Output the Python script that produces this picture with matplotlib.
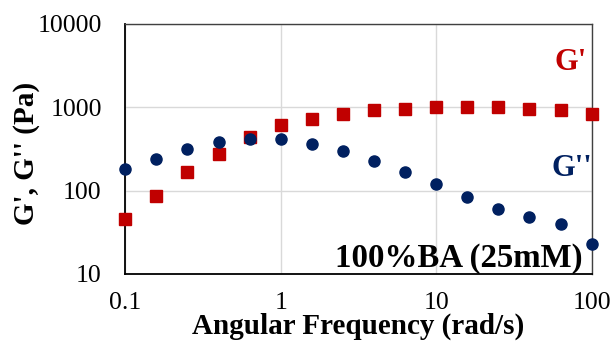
import matplotlib
matplotlib.use("Agg")
import matplotlib.pyplot as plt
from matplotlib.ticker import FixedLocator, NullLocator

freq = [0.1, 0.158, 0.251, 0.398, 0.631, 1.0, 1.58, 2.51, 3.98, 6.31,
        10.0, 15.8, 25.1, 39.8, 63.1, 100.0]
g_storage = [46, 87, 168, 278, 444, 608, 728, 832, 921, 955,
             1000, 1000, 1000, 955, 921, 832]
g_loss = [182, 242, 319, 380, 417, 417, 363, 302, 229, 168,
          121, 84, 61, 48, 40, 23]
x_ticks = [0.1, 1, 10, 100]
x_tick_labels = ["0.1", "1", "10", "100"]
y_ticks = [10, 100, 1000, 10000]
y_tick_labels = ["10", "100", "1000", "10000"]

red = "#C00000"
navy = "#002060"
serif = ["Liberation Serif", "DejaVu Serif"]

fig = plt.figure(figsize=(6.13, 3.42), dpi=100)
ax = fig.add_axes([125.3 / 613, 1 - 274 / 342, 466.4 / 613, 250 / 342])
ax.set_xscale("log")
ax.set_yscale("log")
ax.set_xlim(0.1, 100)
ax.set_ylim(10, 10000)

ax.plot(freq, g_storage, linestyle="none", marker="s", markersize=8,
        color=red, clip_on=False, zorder=3)
ax.plot(freq, g_loss, linestyle="none", marker="o", markersize=8,
        color=navy, clip_on=False, zorder=4)

ax.xaxis.set_major_locator(FixedLocator(x_ticks))
ax.yaxis.set_major_locator(FixedLocator(y_ticks))
ax.xaxis.set_minor_locator(NullLocator())
ax.yaxis.set_minor_locator(NullLocator())
ax.set_xticklabels(x_tick_labels)
ax.set_yticklabels(y_tick_labels)
ax.tick_params(axis="both", length=0, labelsize=18.5)
ax.tick_params(axis="x", pad=13)
ax.tick_params(axis="y", pad=17)
for lbl in ax.get_xticklabels() + ax.get_yticklabels():
    lbl.set_fontfamily(serif)

ax.grid(True, which="major", color="#D9D9D9", linewidth=1.0)
ax.set_axisbelow(True)
for side in ["left", "bottom"]:
    ax.spines[side].set_color("black")
    ax.spines[side].set_linewidth(1.3)
for side in ["top", "right"]:
    ax.spines[side].set_color("#404040")
    ax.spines[side].set_linewidth(1.0)

fig.text(27 / 613, 1 - 153 / 342, "G', G'' (Pa)", rotation=90, ha="center",
         va="center", fontsize=21, fontweight="bold", family=serif)
fig.text(358 / 613, 1 - 334 / 342, "Angular Frequency (rad/s)", ha="center",
         va="baseline", fontsize=21, fontweight="bold", family=serif)

fig.text(571 / 613, 1 - 63 / 342, "G'", ha="center", va="center",
         fontsize=22, fontweight="bold", color=red, family=serif)
fig.text(572 / 613, 1 - 168 / 342, "G''", ha="center", va="center",
         fontsize=22, fontweight="bold", color=navy, family=serif)
fig.text(583 / 613, 1 - 267 / 342, "100%BA (25mM)", ha="right", va="baseline",
         fontsize=23.7, fontweight="bold", color="black", family=serif)

fig.savefig("out.png", dpi=100)
